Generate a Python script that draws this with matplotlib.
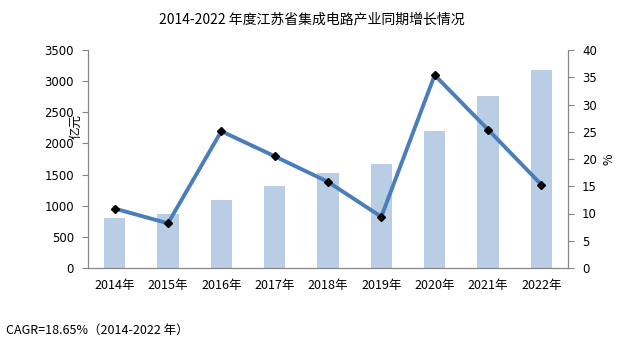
import numpy as np
import matplotlib.pyplot as plt
import matplotlib as mpl

mpl.use("Agg")

plt.rcParams["font.family"] = ["Noto Sans CJK SC", "DejaVu Sans"]

years = ["2014年", "2015年", "2016年", "2017年", "2018年", "2019年", "2020年", "2021年", "2022年"]
revenue = [802, 872, 1091, 1321, 1520, 1669, 2199, 2761, 3178]  # 亿元
growth = [10.9, 8.2, 25.1, 20.5, 15.8, 9.4, 35.4, 25.4, 15.3]  # %

bar_color = "#B9CDE5"
line_color = "#4A7EBB"
axis_color = "#868686"

fig = plt.figure(figsize=(6.24, 3.48), dpi=100)
ax = fig.add_axes([88 / 624, 80 / 348, 480 / 624, 218 / 348])
ax2 = ax.twinx()

x = np.arange(len(years))
ax.bar(x, revenue, width=0.4, color=bar_color, zorder=1)
ax2.plot(x, growth, color=line_color, lw=2.8, marker="D", ms=4.5,
         mfc="black", mec="black", zorder=3)

ax.set_xlim(-0.5, len(years) - 0.5)
ax.set_ylim(0, 3500)
ax.set_yticks(np.arange(0, 3501, 500))
ax2.set_ylim(0, 40)
ax2.set_yticks(np.arange(0, 41, 5))
ax.set_xticks(x)
ax.set_xticklabels(years)

for a in (ax, ax2):
    a.spines["top"].set_visible(False)
    for s in ("left", "right", "bottom"):
        a.spines[s].set_color(axis_color)
    a.tick_params(axis="y", colors=axis_color, labelcolor="black",
                  labelsize=9, length=4, pad=6)
ax.tick_params(axis="x", length=0, labelsize=9, pad=8)
for lbl in ax.get_yticklabels() + ax2.get_yticklabels():
    lbl.set_family("DejaVu Sans")
    lbl.set_fontsize(8.5)

ax.set_ylabel("亿元", fontsize=9)
ax.yaxis.set_label_coords(-0.012, 0.65)
ax2.set_ylabel("%", fontsize=9, rotation=90)
ax2.yaxis.set_label_coords(1.072, 0.5)

fig.text(0.5, 0.945, "2014-2022 年度江苏省集成电路产业同期增长情况",
         ha="center", va="center", fontsize=10)
fig.text(6 / 624, 0.05, "CAGR=18.65%（2014-2022 年）",
         ha="left", va="center", fontsize=9)

fig.savefig("out.png", dpi=100)
plt.close()
